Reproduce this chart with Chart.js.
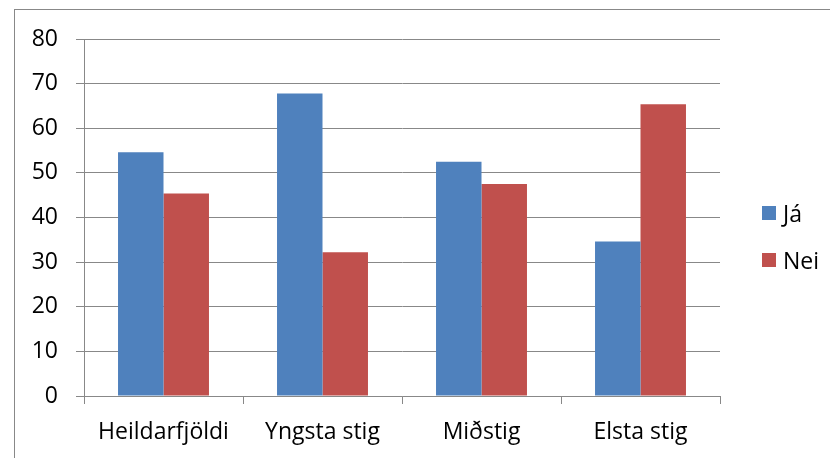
<!DOCTYPE html>
<html>
<head>
<meta charset="utf-8">
<script src="https://cdn.jsdelivr.net/npm/chart.js@4.4.0/dist/chart.umd.min.js"></script>
<style>
  html, body { margin: 0; padding: 0; background: #fff; }
  body { width: 830px; height: 458px; position: relative; overflow: hidden; font-family: "Open Sans", sans-serif; }
  #frame { position: absolute; left: 14px; top: 9px; width: 900px; height: 500px;
    border-left: 1px solid #888; border-top: 1px solid #888; }
  #wrap { position: absolute; left: 0; top: 0; width: 830px; height: 458px; }
  #legend { position: absolute; left: 762px; top: 199px; font-size: 23px; color: #000; }
  .item { display: flex; align-items: center; height: 28px; margin-bottom: 19px; }
  .box { width: 14px; height: 14px; margin-right: 7px; }
</style>
</head>
<body>
<div id="frame"></div>
<div id="wrap"><canvas id="chart" width="830" height="458"></canvas></div>
<div id="legend"></div>
<script>
// categories and series (percent)
const categories = ["Heildarfjöldi", "Yngsta stig", "Miðstig", "Elsta stig"];
const seriesNames = ["Já", "Nei"];
const jaValues = [54.6, 67.8, 52.5, 34.6];
const neiValues = [45.4, 32.2, 47.5, 65.4];
const yTicks = [0, 10, 20, 30, 40, 50, 60, 70, 80];

const COLORS = ["#4F81BD", "#C0504D"];
const GRID = "#888888";
const FONT = { family: "'Open Sans', sans-serif", size: 23 };

// build datasets from the named arrays
const datasets = [jaValues, neiValues].map((vals, i) => ({
  label: seriesNames[i],
  data: vals,
  backgroundColor: COLORS[i],
  borderWidth: 0,
  categoryPercentage: 0.572,
  barPercentage: 1,
}));

// html legend
const legendEl = document.getElementById("legend");
datasets.forEach((ds) => {
  const row = document.createElement("div");
  row.className = "item";
  row.innerHTML = `<span class="box" style="background:${ds.backgroundColor}"></span><span>${ds.label}</span>`;
  legendEl.appendChild(row);
});

new Chart(document.getElementById("chart"), {
  type: "bar",
  data: { labels: categories, datasets },
  options: {
    responsive: false,
    animation: false,
    layout: { padding: { left: 0, right: 110, top: 39, bottom: 0 } },
    plugins: { legend: { display: false }, tooltip: { enabled: false } },
    scales: {
      x: {
        afterFit: (s) => { s.height = 62; },
        grid: {
          offset: true,
          drawOnChartArea: false,
          drawTicks: true,
          tickLength: 8,
          color: GRID,
        },
        border: { color: GRID, width: 1 },
        ticks: { color: "#000", font: FONT, padding: 15 },
      },
      y: {
        min: 0,
        max: 80,
        afterFit: (s) => { s.width = 84; },
        afterBuildTicks: (s) => { s.ticks = yTicks.map((v) => ({ value: v })); },
        grid: { color: GRID, tickLength: 8, drawTicks: true },
        border: { color: GRID, width: 1 },
        ticks: { color: "#000", font: FONT, padding: 18 },
      },
    },
  },
});
</script>
</body>
</html>
